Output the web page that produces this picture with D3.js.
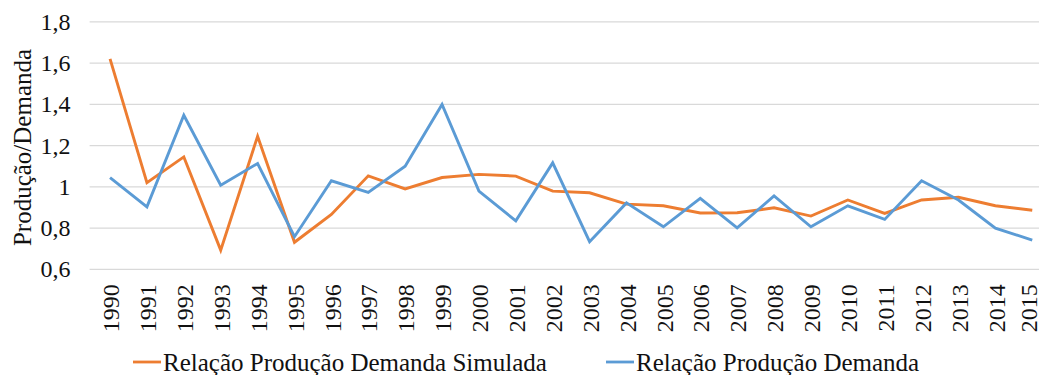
<!DOCTYPE html>
<html>
<head>
<meta charset="utf-8">
<script src="https://cdn.jsdelivr.net/npm/d3@7"></script>
<style>
  html, body { margin: 0; padding: 0; background: #fff; }
</style>
</head>
<body>
<svg id="chart" width="1039" height="375"></svg>
<script>
// Anos da série
const years = ["1990","1991","1992","1993","1994","1995","1996","1997","1998","1999",
  "2000","2001","2002","2003","2004","2005","2006","2007","2008","2009",
  "2010","2011","2012","2013","2014","2015"];

// Relação produção/demanda simulada
const simulada = [1.62, 1.02, 1.145, 0.693, 1.245, 0.731, 0.866, 1.053, 0.99, 1.045,
  1.06, 1.052, 0.979, 0.971, 0.916, 0.908, 0.873, 0.874, 0.898, 0.858,
  0.936, 0.871, 0.936, 0.949, 0.908, 0.886];

// Relação produção/demanda observada
const observada = [1.045, 0.903, 1.347, 1.008, 1.113, 0.758, 1.029, 0.973, 1.10, 1.399,
  0.979, 0.835, 1.116, 0.734, 0.922, 0.806, 0.944, 0.801, 0.956, 0.806,
  0.908, 0.842, 1.029, 0.936, 0.799, 0.742];

const yTicks = [0.6, 0.8, 1.0, 1.2, 1.4, 1.6, 1.8];
const yTickLabels = ["0,6", "0,8", "1", "1,2", "1,4", "1,6", "1,8"];

const seriesNames = ["Relação Produção Demanda Simulada", "Relação Produção Demanda"];
const colors = ["#ED7D31", "#5B9BD5"];

const FONT = "Liberation Serif";
const INK = "#111";

const svg = d3.select("#chart");
const plot = { left: 91.6, right: 1050.7, top: 21.8, bottom: 269.3 };

const x = d3.scaleBand().domain(years).range([plot.left, plot.right]);
const y = d3.scaleLinear().domain([0.6, 1.8]).range([plot.bottom, plot.top]);

// Linhas de grade horizontais
svg.append("g")
  .selectAll("line")
  .data(yTicks)
  .join("line")
  .attr("x1", plot.left - 2)
  .attr("x2", 1039)
  .attr("y1", d => y(d))
  .attr("y2", d => y(d))
  .attr("stroke", "#D9D9D9")
  .attr("stroke-width", 1.3);

// Eixo Y
const yAxis = d3.axisLeft(y)
  .tickValues(yTicks)
  .tickFormat((d, i) => yTickLabels[i])
  .tickSize(0)
  .tickPadding(21);
const gy = svg.append("g").attr("transform", `translate(${plot.left},0)`).call(yAxis);
gy.select(".domain").remove();
gy.selectAll("text")
  .style("font-family", FONT)
  .style("font-size", "24px")
  .attr("fill", INK);

// Eixo X com rótulos verticais
const xAxis = d3.axisBottom(x).tickSize(0).tickPadding(0);
const gx = svg.append("g").attr("transform", `translate(0,${plot.bottom})`).call(xAxis);
gx.select(".domain").remove();
gx.selectAll("text")
  .style("font-family", FONT)
  .style("font-size", "24px")
  .attr("fill", INK)
  .attr("text-anchor", "end")
  .attr("dominant-baseline", "central")
  .attr("transform", "rotate(-90)")
  .attr("x", -15)
  .attr("y", (d, i) => i === years.length - 1 ? -4 : 0)
  .attr("dy", "0.05em");

// Título do eixo Y
svg.append("text")
  .attr("transform", `translate(31,147.5) rotate(-90)`)
  .attr("text-anchor", "middle")
  .style("font-family", FONT)
  .style("font-size", "25px")
  .attr("fill", INK)
  .text("Produção/Demanda");

// Séries
const line = d3.line()
  .x((d, i) => x(years[i]) + x.bandwidth() / 2)
  .y(d => y(d));

[simulada, observada].forEach((s, k) => {
  svg.append("path")
    .datum(s)
    .attr("fill", "none")
    .attr("stroke", colors[k])
    .attr("stroke-width", 2.9)
    .attr("stroke-linejoin", "miter")
    .attr("d", line);
});

// Legenda
const legendItems = [
  { x: 133, name: seriesNames[0], color: colors[0] },
  { x: 606, name: seriesNames[1], color: colors[1] }
];
const lg = svg.append("g");
legendItems.forEach(it => {
  lg.append("line")
    .attr("x1", it.x).attr("x2", it.x + 28)
    .attr("y1", 362).attr("y2", 362)
    .attr("stroke", it.color)
    .attr("stroke-width", 2.8);
  lg.append("text")
    .attr("x", it.x + 30)
    .attr("y", 371)
    .style("font-family", FONT)
    .style("font-size", "25px")
    .attr("fill", INK)
    .text(it.name);
});
</script>
</body>
</html>
